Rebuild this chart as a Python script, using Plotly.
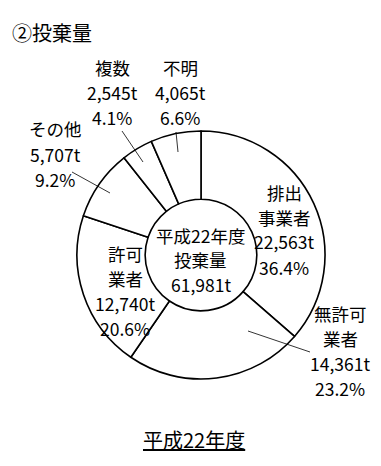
import plotly.graph_objects as go

# Data
categories = ["排出事業者", "無許可業者", "許可業者", "その他", "複数", "不明"]
values = [22563, 14361, 12740, 5707, 2545, 4065]
label_lines = [
    ["排出", "事業者", "22,563t", "36.4%"],
    ["無許可", "業者", "14,361t", "23.2%"],
    ["許可", "業者", "12,740t", "20.6%"],
    ["その他", "5,707t", "9.2%"],
    ["複数", "2,545t", "4.1%"],
    ["不明", "4,065t", "6.6%"],
]
center_lines = ["平成22年度", "投棄量", "61,981t"]
title_text = "②投棄量"
footer_text = "平成22年度"

W, H = 381, 466
FONT = "Noto Sans CJK JP"

def px(x):
    return x / W

def py(y):
    return 1 - y / H

cx, cy, r = 201, 255, 124

fig = go.Figure(go.Pie(
    labels=categories,
    values=values,
    sort=False,
    direction="clockwise",
    rotation=0,
    hole=0.45,
    textinfo="none",
    hoverinfo="label+value+percent",
    marker=dict(colors=["white"] * len(values), line=dict(color="black", width=1.6)),
    domain=dict(x=[px(cx - r), px(cx + r)], y=[py(cy + r), py(cy - r)]),
    showlegend=False,
))

annotations = []

def add_block(lines, x, y0, step, size=17.5):
    for i, t in enumerate(lines):
        annotations.append(dict(
            x=px(x), y=py(y0 + i * step), xref="paper", yref="paper", text=t,
            showarrow=False, font=dict(family=FONT, size=size, color="black"),
            xanchor="center", yanchor="middle",
        ))

# label block anchors: (center x, first line y)
label_pos = [(284, 192), (340, 313), (125, 253), (55, 129), (112, 67), (180, 67)]
for lines, (x, y0) in zip(label_lines, label_pos):
    add_block(lines, x, y0, 25)

add_block(center_lines, cx, 235, 24.5)

annotations.append(dict(
    x=px(10), y=py(33), xref="paper", yref="paper", text=title_text, showarrow=False,
    font=dict(family=FONT, size=20, color="black"), xanchor="left", yanchor="middle",
))
annotations.append(dict(
    x=px(194), y=py(439), xref="paper", yref="paper", text="<u>" + footer_text + "</u>",
    showarrow=False, font=dict(family=FONT, size=20, color="black"),
    xanchor="center", yanchor="middle",
))

leaders = [
    ((248, 331), (310, 352)),
    ((72, 172), (110, 193)),
    ((122, 131), (143, 162)),
    ((176, 132), (178, 152)),
]
shapes = []
for (x0, y0), (x1, y1) in leaders:
    shapes.append(dict(type="line", xref="paper", yref="paper",
                       x0=px(x0), y0=py(y0), x1=px(x1), y1=py(y1),
                       line=dict(color="black", width=0.8)))

fig.update_layout(
    width=W, height=H,
    margin=dict(l=0, r=0, t=0, b=0),
    paper_bgcolor="white", plot_bgcolor="white",
    annotations=annotations, shapes=shapes,
)

fig.write_html(
    "out.html",
    config={"displayModeBar": False},
    post_script="document.body.style.margin='0';document.body.style.overflow='hidden';",
)
